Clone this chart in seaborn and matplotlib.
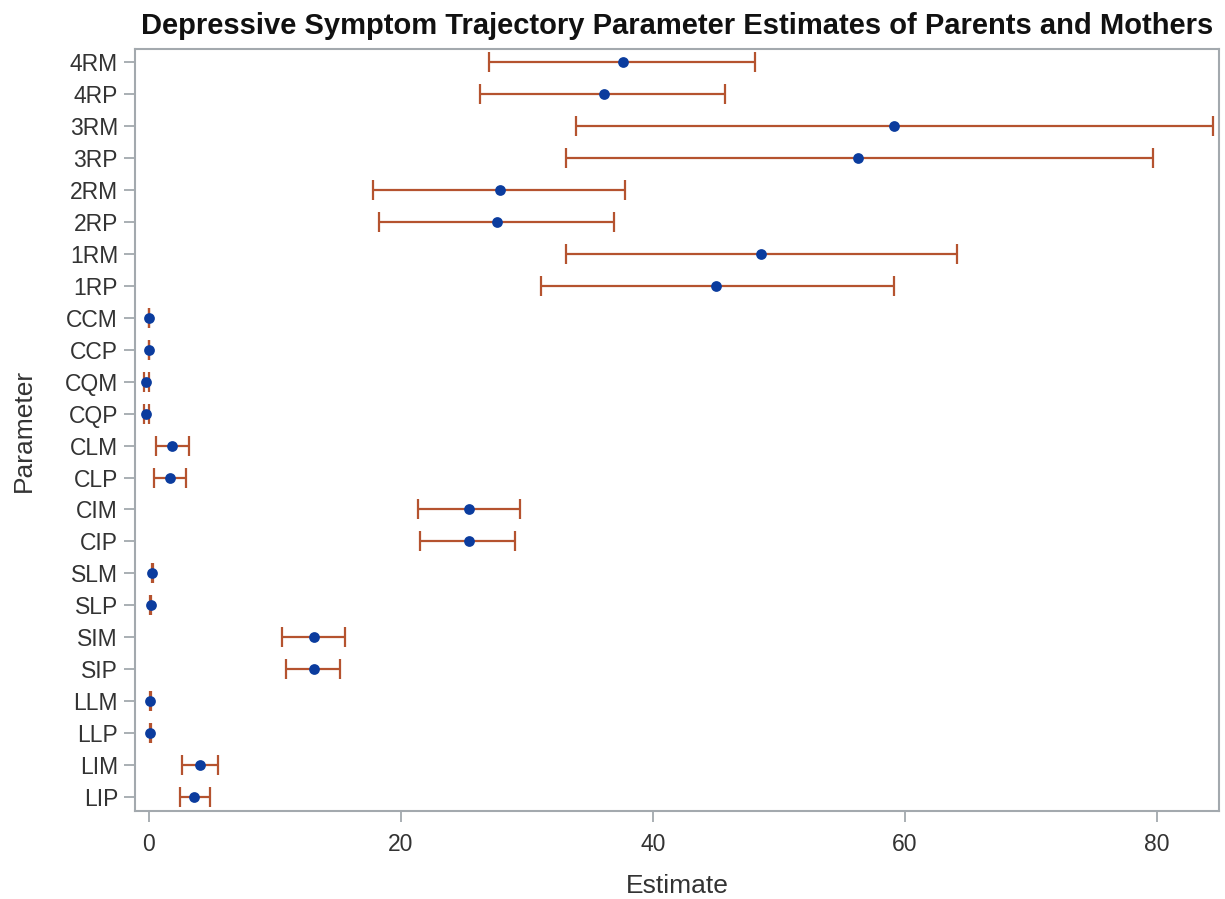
import matplotlib
matplotlib.use("Agg")
import matplotlib.pyplot as plt
import seaborn as sns
import pandas as pd
import numpy as np

params = ["4RM", "4RP", "3RM", "3RP", "2RM", "2RP", "1RM", "1RP",
          "CCM", "CCP", "CQM", "CQP", "CLM", "CLP", "CIM", "CIP",
          "SLM", "SLP", "SIM", "SIP", "LLM", "LLP", "LIM", "LIP"]
estimate = [37.6, 36.1, 59.1, 56.3, 27.9, 27.6, 48.6, 45.0,
            0.03, 0.03, -0.17, -0.17, 1.88, 1.69, 25.4, 25.4,
            0.29, 0.16, 13.15, 13.15, 0.13, 0.13, 4.05, 3.6]
lower = [27.0, 26.3, 33.9, 33.1, 17.8, 18.25, 33.1, 31.1,
         0.0, 0.0, -0.35, -0.35, 0.61, 0.45, 21.4, 21.5,
         0.26, 0.13, 10.6, 10.9, 0.10, 0.10, 2.64, 2.5]
upper = [48.1, 45.7, 84.4, 79.7, 37.8, 36.9, 64.1, 59.1,
         0.06, 0.06, 0.0, 0.0, 3.17, 2.96, 29.5, 29.1,
         0.32, 0.19, 15.6, 15.2, 0.16, 0.16, 5.5, 4.83]

df = pd.DataFrame({"Parameter": params, "Estimate": estimate,
                   "Lower": lower, "Upper": upper})

sns.set_theme(style="white")
plt.rcParams["font.family"] = ["Liberation Sans", "DejaVu Sans"]

fig = plt.figure(figsize=(12.25, 8.99), dpi=100)
ax = fig.add_axes([0.110, 0.098, 0.885, 0.8475])

bar_color = "#B5532F"
dot_color = "#0B3C9E"
frame_color = "#A3A9AE"

xerr = np.vstack([df["Estimate"] - df["Lower"], df["Upper"] - df["Estimate"]])
ypos = np.arange(len(params))
ax.errorbar(df["Estimate"], ypos, xerr=xerr, fmt="none",
            ecolor=bar_color, elinewidth=1.6, capsize=7, capthick=1.6, zorder=2)
sns.scatterplot(x=df["Estimate"], y=ypos, color=dot_color, s=60,
                edgecolor=dot_color, linewidth=0, ax=ax, zorder=3)

ax.set_yticks(ypos)
ax.set_yticklabels(params)
ax.set_ylim(len(params) - 1 + 0.44, -0.42)
ax.set_xlim(-1.1, 84.9)
ax.set_xticks([0, 20, 40, 60, 80])

for s in ax.spines.values():
    s.set_color(frame_color)
    s.set_linewidth(1.5)

ax.tick_params(axis="both", which="major", length=8, width=1.3,
               color=frame_color, labelsize=16.5, labelcolor="#333333",
               left=True, bottom=True)
ax.tick_params(axis="x", pad=8)
ax.tick_params(axis="y", pad=4)

ax.set_xlabel("Estimate", fontsize=19, color="#333333", labelpad=13)
ax.set_ylabel("Parameter", fontsize=19, color="#333333", labelpad=21)
ax.set_title("Depressive Symptom Trajectory Parameter Estimates of Parents and Mothers",
             fontsize=21, fontweight="bold", color="#111111", pad=11)

fig.savefig("out.png", dpi=100)
